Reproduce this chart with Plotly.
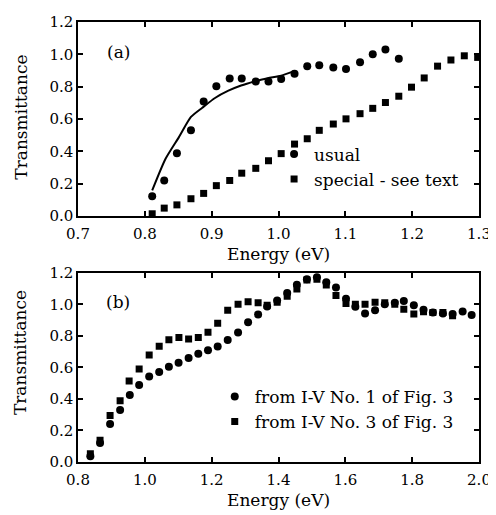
import plotly.graph_objects as go

# ---- panel (a) data ----
a_usual_E = [0.811, 0.829, 0.848, 0.869, 0.888, 0.907, 0.927, 0.945, 0.966, 0.985,
             1.004, 1.024, 1.043, 1.061, 1.082, 1.101, 1.122, 1.141, 1.160, 1.180]
a_usual_T = [0.123, 0.22, 0.389, 0.53, 0.708, 0.803, 0.85, 0.85, 0.832, 0.832,
             0.848, 0.88, 0.927, 0.933, 0.919, 0.909, 0.951, 1.0, 1.03, 0.973]
a_special_E = [0.811, 0.829, 0.848, 0.869, 0.888, 0.907, 0.927, 0.945, 0.966, 0.985,
               1.004, 1.024, 1.043, 1.061, 1.082, 1.101, 1.122, 1.141, 1.160, 1.180,
               1.199, 1.218, 1.238, 1.258, 1.278, 1.298]
a_special_T = [0.014, 0.049, 0.069, 0.107, 0.14, 0.188, 0.22, 0.265, 0.295, 0.342,
               0.386, 0.445, 0.478, 0.53, 0.569, 0.601, 0.633, 0.666, 0.702, 0.741,
               0.797, 0.854, 0.927, 0.965, 0.991, 0.981]
a_fit_E = [0.811, 0.831, 0.851, 0.869, 0.886, 0.905, 0.925, 0.944, 0.964, 0.984, 1.004, 1.023]
a_fit_T = [0.158, 0.354, 0.488, 0.613, 0.670, 0.730, 0.775, 0.807, 0.832, 0.852, 0.868, 0.896]

# ---- panel (b) data ----
b_no1_E = [0.837, 0.866, 0.896, 0.926, 0.955, 0.983, 1.013, 1.043, 1.072, 1.101,
           1.131, 1.160, 1.189, 1.218, 1.248, 1.279, 1.309, 1.339, 1.366, 1.396,
           1.426, 1.455, 1.485, 1.515, 1.543, 1.572, 1.602, 1.630, 1.659, 1.689,
           1.718, 1.748, 1.775, 1.805, 1.834, 1.862, 1.892, 1.921, 1.951, 1.978]
b_no1_T = [0.037, 0.12, 0.241, 0.33, 0.425, 0.489, 0.542, 0.571, 0.604, 0.629,
           0.66, 0.687, 0.709, 0.732, 0.773, 0.821, 0.887, 0.936, 0.986, 1.025,
           1.072, 1.124, 1.159, 1.171, 1.14, 1.107, 1.035, 0.984, 0.942, 0.963,
           1.0, 1.01, 1.021, 0.994, 0.965, 0.948, 0.942, 0.938, 0.955, 0.932]
b_no3_E = [0.837, 0.866, 0.896, 0.926, 0.953, 0.983, 1.013, 1.043, 1.072, 1.102,
           1.131, 1.160, 1.189, 1.218, 1.248, 1.279, 1.309, 1.339, 1.366, 1.396,
           1.426, 1.455, 1.485, 1.515, 1.543, 1.572, 1.602, 1.630, 1.659, 1.689,
           1.718, 1.748, 1.775, 1.805, 1.834, 1.862, 1.892, 1.921]
b_no3_T = [0.052, 0.138, 0.295, 0.388, 0.513, 0.59, 0.678, 0.734, 0.775, 0.79,
           0.78, 0.79, 0.823, 0.88, 0.963, 1.0, 1.016, 1.01, 0.994, 1.014,
           1.052, 1.097, 1.155, 1.159, 1.122, 1.056, 1.006, 1.0, 1.0, 1.014,
           1.01, 1.0, 0.969, 0.938, 0.953, 0.948, 0.948, 0.928]

FONT = "DejaVu Serif"
TXT = 17
fig = go.Figure()

fig.add_trace(go.Scatter(x=a_fit_E, y=a_fit_T, mode="lines",
                         line=dict(color="black", width=2, shape="spline", smoothing=0.6),
                         showlegend=False, xaxis="x", yaxis="y"))
fig.add_trace(go.Scatter(x=a_usual_E, y=a_usual_T, mode="markers", name="usual",
                         marker=dict(symbol="circle", size=8, color="black"),
                         xaxis="x", yaxis="y", legend="legend"))
fig.add_trace(go.Scatter(x=a_special_E, y=a_special_T, mode="markers", name="special - see text",
                         marker=dict(symbol="square", size=7, color="black"),
                         xaxis="x", yaxis="y", legend="legend"))
fig.add_trace(go.Scatter(x=b_no1_E, y=b_no1_T, mode="markers", name="from I-V No. 1 of Fig. 3",
                         marker=dict(symbol="circle", size=8, color="black"),
                         xaxis="x2", yaxis="y2", legend="legend2"))
fig.add_trace(go.Scatter(x=b_no3_E, y=b_no3_T, mode="markers", name="from I-V No. 3 of Fig. 3",
                         marker=dict(symbol="square", size=7, color="black"),
                         xaxis="x2", yaxis="y2", legend="legend2"))

ax_common = dict(showline=True, mirror="ticks", linecolor="black", linewidth=1.5,
                 ticks="inside", ticklen=5, tickwidth=1.5, tickcolor="black",
                 showgrid=False, zeroline=False, tickformat=".1f",
                 tickfont=dict(family=FONT, size=15, color="black"))

ann_font = dict(family=FONT, size=TXT, color="black")
fig.update_layout(
    width=488, height=507,
    margin=dict(l=70, r=13, t=5, b=53),
    paper_bgcolor="white", plot_bgcolor="white",
    font=dict(family=FONT, size=15, color="black"),
    xaxis=dict(ax_common, domain=[0, 1], range=[0.7, 1.3], dtick=0.1, anchor="y",
               ticklabelstandoff=3),
    yaxis=dict(ax_common, domain=[0.559, 1], range=[0, 1.2], dtick=0.2, anchor="x"),
    xaxis2=dict(ax_common, domain=[0, 1], range=[0.8, 2.0], dtick=0.2, anchor="y2",
                ticklabelstandoff=3),
    yaxis2=dict(ax_common, domain=[0, 0.430], range=[0, 1.2], dtick=0.2, anchor="x2"),
    legend=dict(x=0.489, y=0.740, xanchor="left", yanchor="top", bgcolor="rgba(0,0,0,0)",
                font=ann_font, itemwidth=30, tracegroupgap=0),
    legend2=dict(x=0.341, y=0.189, xanchor="left", yanchor="top", bgcolor="rgba(0,0,0,0)",
                 font=ann_font, itemwidth=30, tracegroupgap=0),
    annotations=[
        dict(text="(a)", x=0.101, y=0.931, xref="paper", yref="paper", showarrow=False,
             xanchor="center", yanchor="middle", font=ann_font),
        dict(text="(b)", x=0.099, y=0.363, xref="paper", yref="paper", showarrow=False,
             xanchor="center", yanchor="middle", font=ann_font),
        dict(text="Energy (eV)", x=0.499, y=0.472, xref="paper", yref="paper", showarrow=False,
             xanchor="center", yanchor="middle", font=ann_font),
        dict(text="Energy (eV)", x=0.499, y=-0.087, xref="paper", yref="paper", showarrow=False,
             xanchor="center", yanchor="middle", font=ann_font),
        dict(text="Transmittance", x=-0.143, y=0.784, xref="paper", yref="paper", showarrow=False,
             textangle=-90, xanchor="center", yanchor="middle", font=ann_font),
        dict(text="Transmittance", x=-0.143, y=0.249, xref="paper", yref="paper", showarrow=False,
             textangle=-90, xanchor="center", yanchor="middle", font=ann_font),
    ],
)

fig.write_html("out.html")
